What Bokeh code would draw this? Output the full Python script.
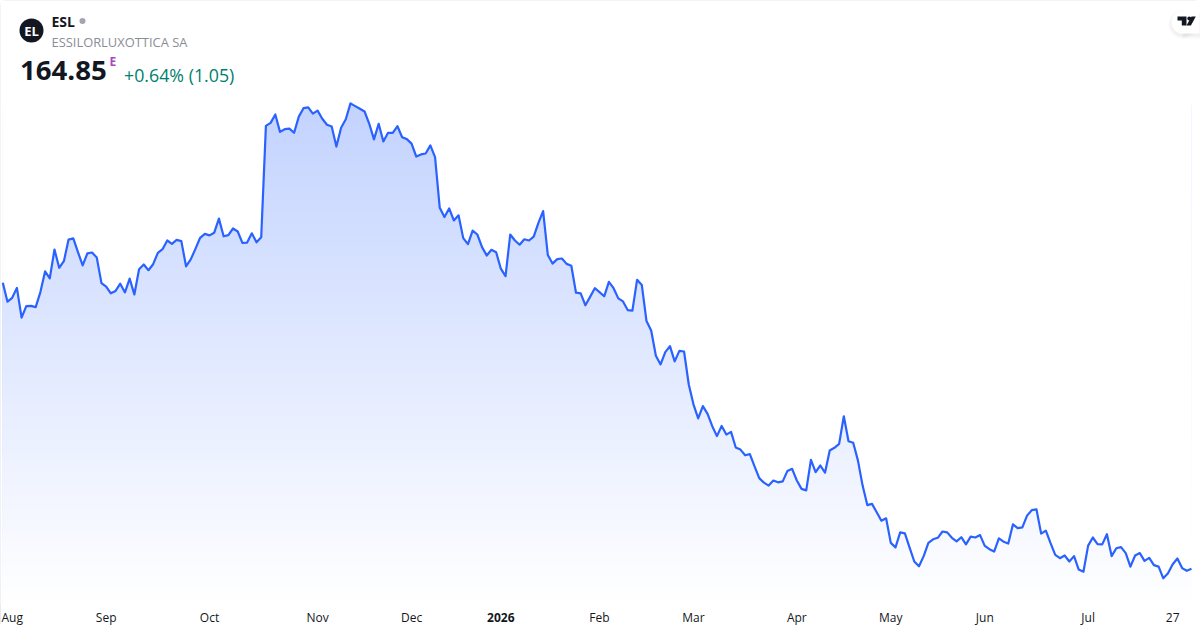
from bokeh.plotting import figure
from bokeh.models import Range1d, LinearAxis, FixedTicker
from bokeh.core.properties import value
from bokeh.embed import file_html
from bokeh.resources import INLINE
import numpy as np

# ---- data ----
prices = [
260.2,253.9,255.2,258.5,248.6,252.4,252.5,252.1,257.1,264.0,261.7,271.3,265.2,267.4,274.6,275.0,270.4,266.0,270.0,270.3,
268.6,260.1,258.9,256.7,257.5,259.9,257.0,261.6,256.3,264.7,266.3,264.4,266.4,270.2,271.4,274.3,273.2,274.5,274.1,265.7,
268.0,271.5,275.2,276.5,276.0,276.9,281.6,275.7,276.1,278.3,277.3,273.5,273.6,276.7,273.7,275.4,312.5,313.5,316.3,310.5,
311.4,311.6,310.2,315.6,318.4,318.7,316.6,317.6,314.9,312.9,312.3,305.6,311.9,314.7,320.0,319.1,318.2,317.3,313.2,308.0,
313.2,307.3,310.2,310.2,312.4,308.7,308.1,306.6,302.3,303.0,303.3,306.0,302.1,285.2,282.1,285.0,281.0,282.7,275.1,273.1,
277.6,276.3,272.1,269.3,271.2,270.4,264.9,262.4,276.3,274.3,272.9,274.7,274.3,275.6,280.2,284.1,269.5,266.6,268.1,268.3,
266.5,265.9,256.9,256.7,252.7,255.5,258.4,257.1,255.7,260.5,258.4,255.0,254.0,251.1,250.9,261.2,259.5,247.5,244.3,235.9,
233.0,237.1,239.1,234.0,237.5,237.3,226.3,219.7,215.0,219.1,216.5,212.4,209.1,212.5,209.6,210.5,205.3,204.6,202.7,203.1,
199.0,195.1,193.6,192.6,194.3,193.7,194.0,197.5,198.2,194.3,191.5,191.0,201.2,197.1,199.3,196.9,204.3,205.2,206.5,215.7,
207.4,206.9,201.0,192.6,186.1,186.5,183.7,180.9,181.7,173.5,172.0,177.0,176.7,171.9,167.3,165.7,169.1,173.5,174.7,175.2,
177.3,177.0,175.2,174.0,175.4,173.0,175.6,175.3,176.1,172.5,171.4,170.6,175.0,173.9,173.3,179.7,178.4,178.7,182.6,184.4,
184.7,176.6,177.6,173.4,169.5,168.4,169.3,167.3,169.1,164.6,163.9,172.6,175.3,173.1,173.0,176.4,169.1,171.7,172.1,170.1,
165.6,169.3,170.1,167.5,168.5,166.1,165.6,161.7,163.4,166.4,168.3,165.1,164.2,164.85,
]
tick_positions = [2, 22, 44, 67, 87, 127, 147, 169, 189, 209, 231, 249]
tick_labels = ["Aug", "Sep", "Oct", "Nov", "Dec", "Feb", "Mar", "Apr", "May", "Jun", "Jul", "27"]
year_tick = 106
year_label = "2026"
symbol = "ESL"
company = "ESSILORLUXOTTICA SA"
last_price = "164.85"
change = "+0.64% (1.05)"

LINE = "#2962FF"
W, H, FH = 1200, 630, 605
n = len(prices)
x = np.arange(n)
step = (1191.0 - 2.3) / (n - 1)
v_top = 354.3
v_bot = v_top - FH / 3.0
x_lo, x_hi = -2.3 / step, (W - 2.3) / step

p = figure(width=W, height=H, frame_width=W, frame_height=FH,
           x_range=Range1d(x_lo, x_hi), y_range=Range1d(v_bot, v_top),
           x_axis_location=None, y_axis_location=None,
           toolbar_location=None, output_backend="svg",
           min_border=0, min_border_left=0, min_border_right=0, min_border_top=0, min_border_bottom=0,
           outline_line_color=None, background_fill_color="white", border_fill_color="white")
p.grid.visible = False
p.styles = {"position": "absolute", "left": "0", "top": "0",
            "outline": "1px solid #E0E3EB", "outline-offset": "-1px", "border-radius": "6px"}

p.extra_x_ranges["px"] = Range1d(0, W)
p.extra_y_ranges["px"] = Range1d(FH, 0)
PX = dict(x_range_name="px", y_range_name="px")

# gradient area: opaque bands fading downward, then a white mask above the line
grad_hi, grad_lo = max(prices), v_bot + 0.7
edges = np.linspace(grad_hi, grad_lo, 170)
fracs = np.linspace(0, 1, len(edges))
alpha = 0.28 * (1 - fracs)
cols = ["#%02x%02x%02x" % tuple(int(round(255 + (c - 255) * a)) for c in (0x29, 0x62, 0xFF)) for a in alpha]
p.quad(left=x[0], right=x[-1], top=edges, bottom=grad_lo, fill_color=cols, line_color=None)
p.varea(x=x, y1=prices, y2=v_top, fill_color="white")
p.quad(left=[x_lo, x[-1] - 0.01], right=[x[0] + 0.01, x_hi], top=v_top, bottom=[prices[0], prices[-1]],
       fill_color="white", line_color=None)
p.line(x, prices, line_color=LINE, line_width=2.2, line_join="round")

# axes: months, plus a second axis carrying only the bold year label, pulled up onto the same row
def make_axis(ticks, labels, style, standoff):
    ax = LinearAxis(ticker=FixedTicker(ticks=ticks), major_label_overrides=dict(zip(ticks, labels)))
    ax.axis_line_color = None
    ax.major_tick_line_color = None
    ax.minor_tick_line_color = None
    ax.major_tick_in = 0
    ax.major_tick_out = 0
    ax.major_label_standoff = standoff
    ax.major_label_text_font = "Open Sans"
    ax.major_label_text_font_size = "12px"
    ax.major_label_text_font_style = style
    ax.major_label_text_color = "#131722"
    return ax

p.add_layout(make_axis(tick_positions, tick_labels, "normal", 3), "below")
p.add_layout(make_axis([year_tick], [year_label], "bold", -16), "below")

# header
def txt(px, py, s, size, color, style="normal", align="left"):
    p.text([px], [py], text=[s], text_font=value("Open Sans"), text_font_size=value(size),
           text_font_style=style, text_color=color, text_align=align, text_baseline="middle", **PX)

p.scatter([31], [30], size=24, marker="circle", fill_color="#131722", line_color=None, **PX)
txt(31, 30.5, "EL", "13px", "white", "bold", "center")
txt(51, 21, symbol, "14px", "#131722", "bold")
p.scatter([82], [20.5], size=6, marker="circle", fill_color="#A3A6AF", line_color=None, **PX)
txt(51, 41, company, "12.9px", "#8A8D96")
txt(19.5, 70, last_price, "27.6px", "#131722", "bold")
txt(109, 60.5, "E", "12px", "#AB47BC", "bold")
txt(123.5, 74, change, "17.8px", "#00806E")

# TradingView badge
for off, a in ((4, .008), (3, .011), (2, .014), (1, .018)):
    p.scatter([1182], [24], size=22 + 2 * off, marker="circle", fill_color="black", fill_alpha=a, line_color=None, **PX)
    p.quad(left=[1182], right=[1200], top=[13], bottom=[35 + off], fill_color="black", fill_alpha=a, line_color=None, **PX)
p.scatter([1182], [22], size=22, marker="circle", fill_color="white", line_color=None, **PX)
p.quad(left=[1182], right=[1199], top=[11], bottom=[33], fill_color="white", line_color=None, **PX)
p.patch([1177, 1186, 1186, 1181.3, 1181.3, 1177], [16, 16, 25, 25, 20, 20], fill_color="#131722", line_color=None, **PX)
p.scatter([1188.8], [18], size=4, marker="circle", fill_color="#131722", line_color=None, **PX)
p.patch([1191, 1195.3, 1190.4, 1186], [16, 16, 25, 25], fill_color="#131722", line_color=None, **PX)

open("out.html", "w").write(file_html(p, INLINE))
